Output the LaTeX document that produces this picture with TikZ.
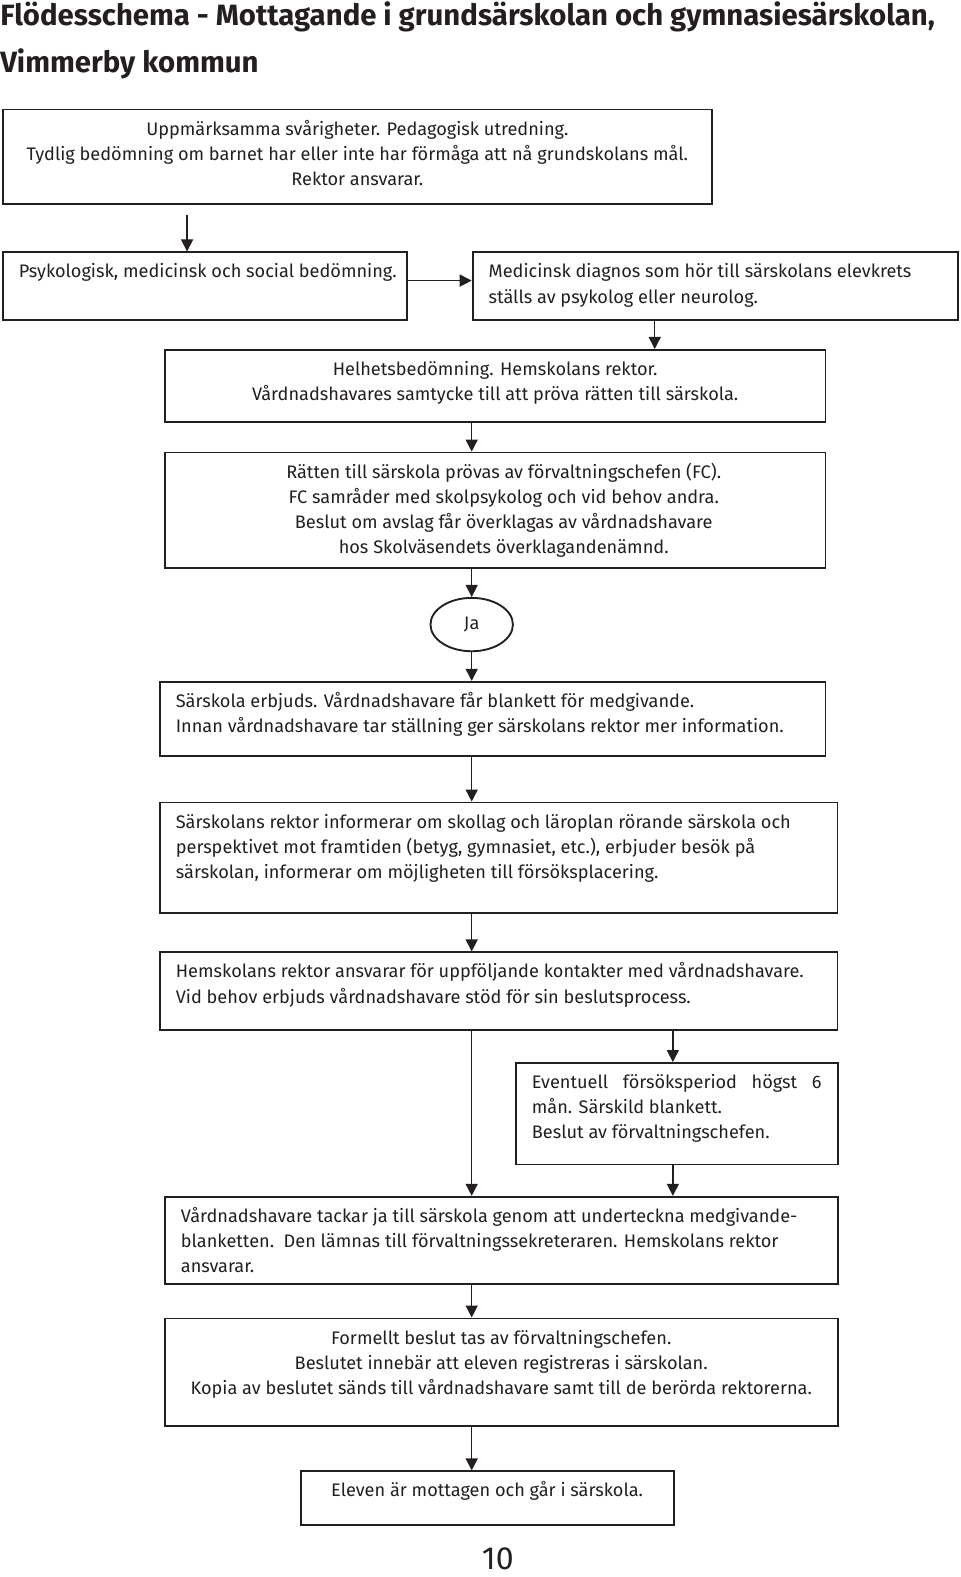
\documentclass[tikz,border=0pt]{standalone}
\usepackage{fontspec}
\setmainfont{Fira Sans}
\usetikzlibrary{arrows.meta,shapes.geometric}
\definecolor{ink}{HTML}{231F20}

\begin{document}
\begin{tikzpicture}[x=0.7538pt,y=-0.7538pt]
\tikzstyle{every node}=[text=ink]
\tikzstyle{box}=[draw=ink,line width=1.4pt,anchor=north west,inner xsep=12pt,inner ysep=6pt,font=\fontsize{13.6}{18.85}\selectfont]
\tikzstyle{heading}=[anchor=base west,inner sep=0pt,font=\fontsize{22}{26}\selectfont\bfseries]
\tikzstyle{arr}=[draw=ink,line width=1.1pt,-{Triangle[width=9pt,length=9pt]}]
\useasboundingbox (0,0) rectangle (955,1568);
% title
\node[heading] (t1) at (0,25) {Flödesschema - Mottagande i grundsärskolan och gymnasiesärskolan,};
\node[heading] (t2) at (0,72) {Vimmerby kommun};
% boxes
\node[box] (upp) at (2,108) {\parbox[t][58.8pt][t]{507.3pt}{\centering\strut Uppmärksamma svårigheter. Pedagogisk utredning.\\ Tydlig bedömning om barnet har eller inte har förmåga att nå grundskolans mål.\\ Rektor ansvarar.}};
\node[box] (psy) at (2,250) {\parbox[t][38.4pt][t]{278.9pt}{\raggedright\strut\mbox{Psykologisk, medicinsk och social bedömning.}}};
\node[box] (med) at (469,250) {\parbox[t][38.4pt][t]{340.0pt}{\raggedright\strut Medicinsk diagnos som hör till särskolans elevkrets\\ ställs av psykolog eller neurolog.}};
\node[box] (hel) at (163,347) {\parbox[t][42.2pt][t]{471.1pt}{\centering\strut Helhetsbedömning. Hemskolans rektor.\\ Vårdnadshavares samtycke till att pröva rätten till särskola.}};
\node[box] (ratt) at (163,449) {\hspace*{12.8pt}\parbox[t][74.6pt][t]{458.3pt}{\centering\strut Rätten till särskola prövas av förvaltningschefen (FC).\\ FC samråder med skolpsykolog och vid behov andra.\\ Beslut om avslag får överklagas av vårdnadshavare\\ hos Skolväsendets överklagandenämnd.}};
\node[draw=ink,line width=1.4pt,ellipse,minimum width=61.8pt,minimum height=40pt,font=\fontsize{13.6}{16}\selectfont] (ja) at (469,621) {Ja};
\node[box] (erb) at (158,677) {\parbox[t][43.7pt][t]{474.9pt}{\raggedright\strut Särskola erbjuds. Vårdnadshavare får blankett för medgivande.\\ Innan vårdnadshavare tar ställning ger särskolans rektor mer information.}};
\node[box] (info) at (158,797) {\parbox[t][70.9pt][t]{483.9pt}{\raggedright\strut Särskolans rektor informerar om skollag och läroplan rörande särskola och\\ perspektivet mot framtiden (betyg, gymnasiet, etc.), erbjuder besök på\\ särskolan, informerar om möjligheten till försöksplacering.}};
\node[box] (hem) at (158,946) {\parbox[t][46.0pt][t]{483.9pt}{\raggedright\strut Hemskolans rektor ansvarar för uppföljande kontakter med vårdnadshavare.\\ Vid behov erbjuds vårdnadshavare stöd för sin beslutsprocess.}};
\node[box] (fors) at (512,1056) {\parbox[t][64.1pt][t]{217.1pt}{\strut Eventuell försöksperiod högst 6\linebreak mån. Särskild blankett.\\ Beslut av förvaltningschefen.}};
\node[box] (tack) at (163,1189) {\parbox[t][53.5pt][t]{480.2pt}{\raggedright\strut Vårdnadshavare tackar ja till särskola genom att underteckna medgivande-\\ blanketten.\ \ Den lämnas till förvaltningssekreteraren. Hemskolans rektor\\ ansvarar.}};
\node[box] (form) at (163,1310) {\parbox[t][68.6pt][t]{480.2pt}{\centering\strut Formellt beslut tas av förvaltningschefen.\\ Beslutet innebär att eleven registreras i särskolan.\\ Kopia av beslutet sänds till vårdnadshavare samt till de berörda rektorerna.}};
\node[box] (elev) at (298,1462) {\parbox[t][27.9pt][t]{255.5pt}{\centering\strut Eleven är mottagen och går i särskola.}};
% page number
\node[anchor=base,inner sep=0pt,font=\fontsize{24}{28}\selectfont] (sida) at (495,1561) {10};
% connectors
\coordinate (k1) at (186,214);
\coordinate (k2) at (0,279);
\coordinate (k3) at (651,0);
\coordinate (mid) at (469,0);
\coordinate (k4) at (669,0);
\draw[arr] (k1) -- (psy.north -| k1);
\draw[arr] (psy.east |- k2) -- (med.west |- k2);
\draw[arr] (med.south -| k3) -- (hel.north -| k3);
\draw[arr] (hel.south -| mid) -- (ratt.north -| mid);
\draw[arr] (ratt.south -| mid) -- (ja.north);
\draw[arr] (ja.south) -- (erb.north -| mid);
\draw[arr] (erb.south -| mid) -- (info.north -| mid);
\draw[arr] (info.south -| mid) -- (hem.north -| mid);
\draw[arr] (hem.south -| mid) -- (tack.north -| mid);
\draw[arr] (hem.south -| k4) -- (fors.north -| k4);
\draw[arr] (fors.south -| k4) -- (tack.north -| k4);
\draw[arr] (tack.south -| mid) -- (form.north -| mid);
\draw[arr] (form.south -| mid) -- (elev.north -| mid);
\end{tikzpicture}
\end{document}
